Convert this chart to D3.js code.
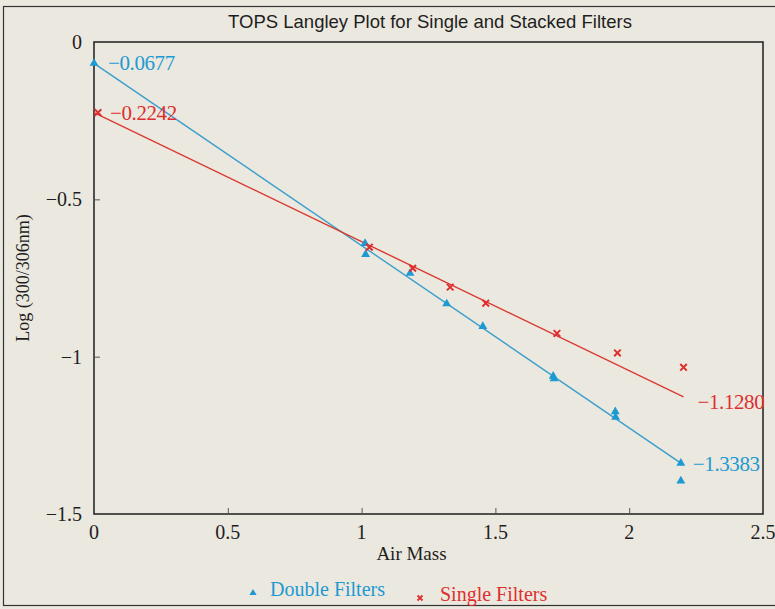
<!DOCTYPE html>
<html>
<head>
<meta charset="utf-8">
<script src="https://cdn.jsdelivr.net/npm/d3@7"></script>
<style>
  html, body { margin: 0; padding: 0; background: #ebe8df; }
  svg { display: block; }
  .serif { font-family: "Liberation Serif", "DejaVu Serif", serif; }
</style>
</head>
<body>
<svg id="chart" width="775" height="609"></svg>
<script>
// Double Filters (triangles)
const doubleAirMass = [0, 1.013, 1.015, 1.181, 1.318, 1.453, 1.716, 1.719, 1.948, 1.949, 2.193, 2.193];
const doubleLog = [-0.0677, -0.640, -0.675, -0.735, -0.832, -0.904, -1.062, -1.070, -1.175, -1.192, -1.3383, -1.395];

// Single Filters (crosses)
const singleAirMass = [0.015, 1.029, 1.191, 1.331, 1.464, 1.730, 1.956, 2.203];
const singleLog = [-0.2242, -0.652, -0.719, -0.779, -0.830, -0.926, -0.988, -1.034];

// fitted lines: [x0, y0, x1, y1]
const doubleFit = [[0, -0.0677], [2.193, -1.3383]];
const singleFit = [[0, -0.2242], [2.203, -1.1280]];

const xTicks = [0, 0.5, 1, 1.5, 2, 2.5];
const yTicks = [0, -0.5, -1, -1.5];

const blue = '#1d9ad2';
const red = '#de2f2f';

const svg = d3.select('#chart');
const margin = { left: 94, right: 12, top: 42, bottom: 95 };
const W = 775, H = 609;

const x = d3.scaleLinear().domain([0, 2.5]).range([margin.left, W - margin.right]);
const y = d3.scaleLinear().domain([-1.5, 0]).range([H - margin.bottom, margin.top]);

const fmt = v => (v < 0 ? '\u2212' : '') + Math.abs(v);

// outer frame
svg.append('rect')
    .attr('x', 3.5).attr('y', 6.5)
    .attr('width', W + 10).attr('height', 599)
    .attr('fill', 'none').attr('stroke', '#333').attr('stroke-width', 1.2);

// title
svg.append('text')
    .attr('x', 430).attr('y', 28)
    .attr('text-anchor', 'middle')
    .attr('font-family', '"Liberation Sans", Arial, sans-serif')
    .attr('font-size', 18.5)
    .attr('fill', '#1e1e1e')
    .text('TOPS Langley Plot for Single and Stacked Filters');

// plot box
svg.append('rect')
    .attr('x', x(0)).attr('y', y(0))
    .attr('width', x(2.5) - x(0)).attr('height', y(-1.5) - y(0))
    .attr('fill', 'none').attr('stroke', '#2a2a2a').attr('stroke-width', 1.6);

// axes (ticks pointing inward)
const xAxis = d3.axisTop(x).tickValues(xTicks.slice(1, -1)).tickSize(6).tickFormat('');
svg.append('g').attr('transform', `translate(0,${y(-1.5)})`).call(xAxis)
    .call(g => g.select('.domain').remove())
    .selectAll('line').attr('stroke', '#555');

const yAxis = d3.axisRight(y).tickValues(yTicks.slice(1, -1)).tickSize(6).tickFormat('');
svg.append('g').attr('transform', `translate(${x(0)},0)`).call(yAxis)
    .call(g => g.select('.domain').remove())
    .selectAll('line').attr('stroke', '#555');

// tick labels
svg.selectAll('.xlab').data(xTicks).enter().append('text')
    .attr('class', 'serif')
    .attr('x', d => x(d)).attr('y', y(-1.5) + 25)
    .attr('text-anchor', 'middle')
    .attr('font-size', 20).attr('fill', '#1e1e1e')
    .text(d => d);

svg.selectAll('.ylab').data(yTicks).enter().append('text')
    .attr('class', 'serif')
    .attr('x', x(0) - 12).attr('y', d => y(d) + 7)
    .attr('text-anchor', 'end')
    .attr('font-size', 20).attr('fill', '#1e1e1e')
    .text(fmt);

// axis titles
svg.append('text')
    .attr('class', 'serif')
    .attr('x', (x(0) + x(2.5)) / 2 - 17).attr('y', y(-1.5) + 46)
    .attr('text-anchor', 'middle')
    .attr('font-size', 19).attr('fill', '#1e1e1e')
    .text('Air Mass');

svg.append('text')
    .attr('class', 'serif')
    .attr('transform', `translate(29,${(y(0) + y(-1.5)) / 2}) rotate(-90)`)
    .attr('text-anchor', 'middle')
    .attr('font-size', 18).attr('fill', '#1e1e1e')
    .text('Log (300/306nm)');

// fit lines
const line = d3.line().x(d => x(d[0])).y(d => y(d[1]));
svg.append('path').attr('d', line(doubleFit))
    .attr('fill', 'none').attr('stroke', '#3a9fcc').attr('stroke-width', 1.4);
svg.append('path').attr('d', line(singleFit))
    .attr('fill', 'none').attr('stroke', '#d93a32').attr('stroke-width', 1.4);

// markers
const tri = d3.symbol().type(d3.symbolTriangle).size(34);
svg.selectAll('.dbl').data(doubleAirMass).enter().append('path')
    .attr('d', tri)
    .attr('transform', (d, i) => `translate(${x(d)},${y(doubleLog[i])})`)
    .attr('fill', blue);

const cross = d3.symbol().type(d3.symbolX).size(30);
svg.selectAll('.sgl').data(singleAirMass).enter().append('path')
    .attr('d', cross)
    .attr('transform', (d, i) => `translate(${x(d)},${y(singleLog[i])})`)
    .attr('fill', 'none').attr('stroke', red).attr('stroke-width', 2);

// fit labels
const fitLabels = [
    { x: x(0) + 14, y: y(-0.0677) + 7, text: '\u22120.0677', color: blue },
    { x: x(0) + 16, y: y(-0.2242) + 7, text: '\u22120.2242', color: red },
    { x: x(2.203) + 14, y: y(-1.128) + 12, text: '\u22121.1280', color: red },
    { x: x(2.193) + 12, y: y(-1.3383) + 8, text: '\u22121.3383', color: blue }
];
svg.selectAll('.fitlab').data(fitLabels).enter().append('text')
    .attr('class', 'serif')
    .attr('x', d => d.x).attr('y', d => d.y)
    .attr('font-size', 21).attr('fill', d => d.color)
    .style('letter-spacing', '-0.4px')
    .text(d => d.text);

// legend
const legend = svg.append('g');
legend.append('path').attr('d', d3.symbol().type(d3.symbolTriangle).size(22))
    .attr('transform', 'translate(253,593)').attr('fill', blue);
legend.append('text').attr('class', 'serif')
    .attr('x', 270).attr('y', 596)
    .attr('font-size', 20).attr('fill', blue).text('Double Filters');
legend.append('path').attr('d', d3.symbol().type(d3.symbolX).size(18))
    .attr('transform', 'translate(420,598)')
    .attr('fill', 'none').attr('stroke', red).attr('stroke-width', 1.8);
legend.append('text').attr('class', 'serif')
    .attr('x', 440).attr('y', 601)
    .attr('font-size', 20).attr('fill', red).text('Single Filters');
</script>
</body>
</html>
